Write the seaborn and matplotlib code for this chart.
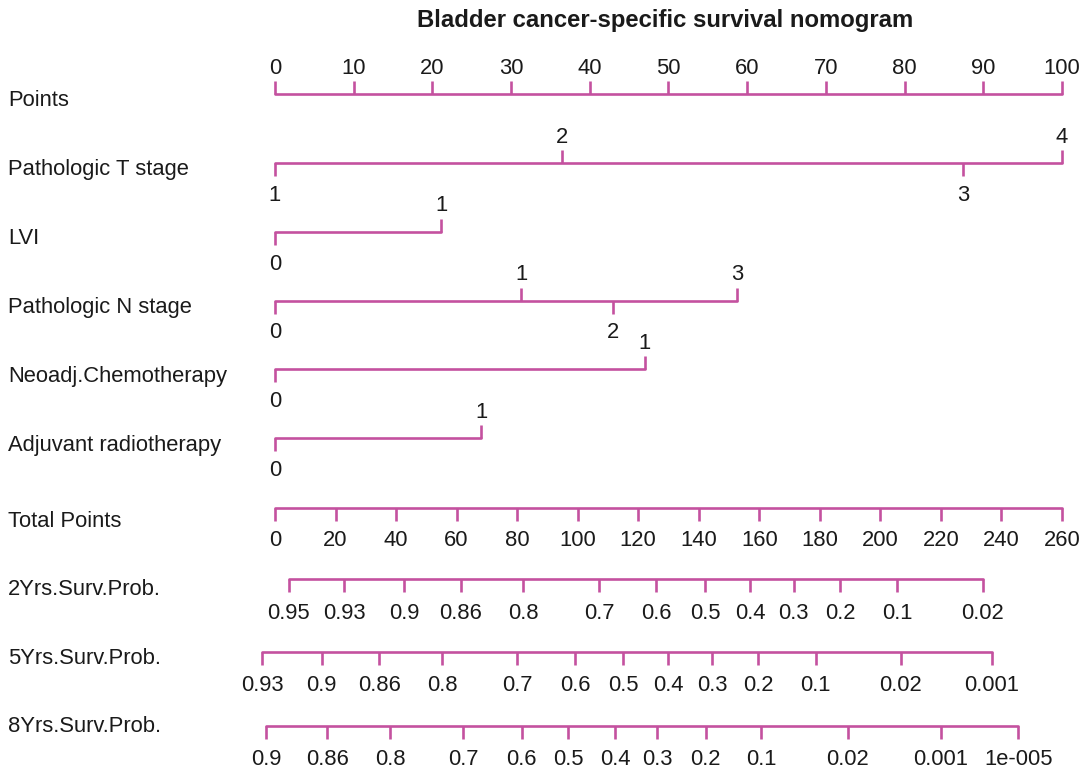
import numpy as np
import pandas as pd
import matplotlib
matplotlib.use('Agg')
from matplotlib import pyplot as plt
import seaborn as sns

title = 'Bladder cancer-specific survival nomogram'

points_ticks = [0, 10, 20, 30, 40, 50, 60, 70, 80, 90, 100]

var_names = ['Pathologic T stage', 'LVI', 'Pathologic N stage',
             'Neoadj.Chemotherapy', 'Adjuvant radiotherapy']
var_levels = [['1', '2', '3', '4'], ['0', '1'], ['0', '1', '2', '3'],
              ['0', '1'], ['0', '1']]
var_points = [[0, 36.5, 87.4, 100], [0, 21.1], [0, 31.3, 43.0, 58.7],
              [0, 47.0], [0, 26.2]]

total_ticks = [0, 20, 40, 60, 80, 100, 120, 140, 160, 180, 200, 220, 240, 260]
total_max = 260

surv_names = ['2Yrs.Surv.Prob.', '5Yrs.Surv.Prob.', '8Yrs.Surv.Prob.']
surv_labels = [
    ['0.95', '0.93', '0.9', '0.86', '0.8', '0.7', '0.6', '0.5', '0.4',
     '0.3', '0.2', '0.1', '0.02'],
    ['0.93', '0.9', '0.86', '0.8', '0.7', '0.6', '0.5', '0.4', '0.3',
     '0.2', '0.1', '0.02', '0.001'],
    ['0.9', '0.86', '0.8', '0.7', '0.6', '0.5', '0.4', '0.3', '0.2',
     '0.1', '0.02', '0.001', '1e-005'],
]
surv_total = [
    [4.6, 22.9, 42.7, 61.4, 82.0, 107.1, 126.0, 142.1, 156.9, 171.4,
     186.8, 205.6, 233.8],
    [-4.2, 15.4, 34.5, 55.2, 80.0, 99.1, 115.1, 129.9, 144.5, 159.7,
     178.6, 206.8, 236.8],
    [-3.0, 17.3, 38.0, 62.2, 81.5, 96.9, 112.3, 126.3, 142.3, 160.6,
     189.2, 219.9, 245.6],
]

# layout (pixel rows of the 1090x773 canvas)
x0, ppp = 275, 7.87
points_y = 93.5
var_y = [163.3, 231.7, 300.5, 369.3, 438.3]
total_y = 507.7
surv_y = [579.3, 651.7, 725.7]
points_lab_y = 106
var_lab_y = [175, 244, 313, 382, 451]
total_lab_y = 527
surv_lab_y = [595, 664, 732]
tick_len = 13
color = '#c4519f'
txt = '#1a1a1a'
lw = 1.9
fs = 15.8

sns.set_theme(style='white')
plt.rcParams['font.family'] = ['Liberation Sans', 'DejaVu Sans']
plt.rcParams['text.color'] = txt


def px(xpix):
    return (xpix - x0) / ppp


def tp2pts(tp):
    return np.asarray(tp, dtype=float) * 100.0 / total_max


fig = plt.figure(figsize=(10.9, 7.73), dpi=100)
ax = fig.add_axes([0, 0, 1, 1])

# main horizontal lines
rows = []
rows.append(('points', min(points_ticks), points_y))
rows.append(('points', max(points_ticks), points_y))
for name, pts, y in zip(var_names, var_points, var_y):
    rows.append((name, min(pts), y))
    rows.append((name, max(pts), y))
rows.append(('total', 0, total_y))
rows.append(('total', 100, total_y))
for name, tp, y in zip(surv_names, surv_total, surv_y):
    xs = tp2pts(tp)
    rows.append((name, xs.min(), y))
    rows.append((name, xs.max(), y))
segs = pd.DataFrame(rows, columns=['row', 'x', 'y'])
sns.lineplot(data=segs, x='x', y='y', units='row', estimator=None,
             sort=False, color=color, lw=lw, ax=ax, legend=False)

# Points axis: ticks up
ax.vlines(points_ticks, points_y, points_y - tick_len, color=color, lw=lw)
for v in points_ticks:
    ax.text(v, points_y - 19.5, str(v), ha='center', va='baseline', fontsize=fs)
ax.text(px(8), points_lab_y, 'Points', ha='left', va='baseline', fontsize=fs)

# variable axes: alternate down / up
for name, levels, pts, y, ly in zip(var_names, var_levels, var_points,
                                    var_y, var_lab_y):
    for i, (lev, p) in enumerate(zip(levels, pts)):
        if i % 2 == 0:
            ax.vlines(p, y, y + tick_len, color=color, lw=lw)
            ax.text(p, y + 38, lev, ha='center', va='baseline', fontsize=fs)
        else:
            ax.vlines(p, y, y - tick_len, color=color, lw=lw)
            ax.text(p, y - 20.5, lev, ha='center', va='baseline', fontsize=fs)
    ax.text(px(8), ly, name, ha='left', va='baseline', fontsize=fs)

# total points axis: ticks down
tx = tp2pts(total_ticks)
ax.vlines(tx, total_y, total_y + tick_len, color=color, lw=lw)
for v, xx in zip(total_ticks, tx):
    ax.text(xx, total_y + 38, str(v), ha='center', va='baseline', fontsize=fs)
ax.text(px(8), total_lab_y, 'Total Points', ha='left', va='baseline', fontsize=fs)

# survival probability axes
for name, labs, tp, y, ly in zip(surv_names, surv_labels, surv_total,
                                 surv_y, surv_lab_y):
    xs = tp2pts(tp)
    ax.vlines(xs, y, y + tick_len, color=color, lw=lw)
    for lab, xx in zip(labs, xs):
        ax.text(xx, y + 39.5, lab, ha='center', va='baseline', fontsize=fs)
    ax.text(px(8), ly, name, ha='left', va='baseline', fontsize=fs)

ax.text(px(665), 26.7, title, ha='center', va='baseline', fontsize=17.2,
        fontweight='bold')

ax.set_xlim(px(0), px(1090))
ax.set_ylim(773, 0)
ax.axis('off')

fig.savefig('out.png', dpi=100)
